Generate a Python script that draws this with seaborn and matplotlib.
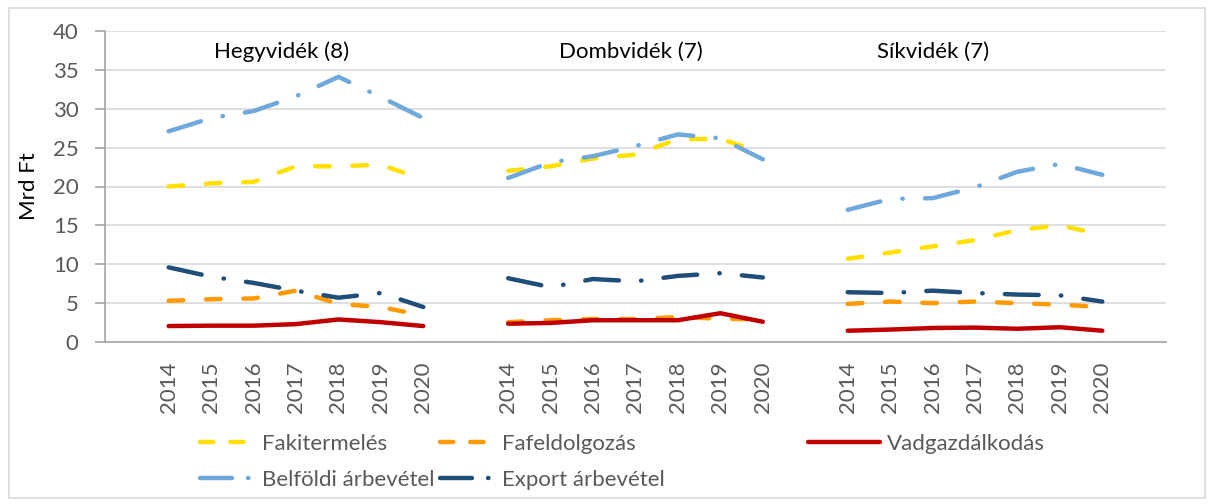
import pandas as pd
import matplotlib.pyplot as plt
import seaborn as sns
from matplotlib.lines import Line2D
from matplotlib.patches import Rectangle

# adatok (Mrd Ft), leolvasva az abrarol
regiok = ["Hegyvidék (8)", "Dombvidék (7)", "Síkvidék (7)"]
evek = [2014, 2015, 2016, 2017, 2018, 2019, 2020]
sorozatok = ["Fakitermelés", "Fafeldolgozás", "Vadgazdálkodás",
             "Belföldi árbevétel", "Export árbevétel"]

fakitermeles = [20.0, 20.4, 20.6, 22.6, 22.6, 22.8, 20.9,
                22.0, 22.6, 23.6, 24.1, 26.1, 26.1, 24.4,
                10.7, 11.5, 12.3, 13.1, 14.4, 15.0, 13.8]
fafeldolgozas = [5.3, 5.5, 5.6, 6.6, 4.9, 4.5, 3.4,
                 2.55, 2.8, 2.95, 2.95, 3.2, 3.0, 2.9,
                 4.9, 5.2, 5.0, 5.2, 5.0, 4.8, 4.5]
vadgazdalkodas = [2.05, 2.1, 2.1, 2.3, 2.9, 2.55, 2.05,
                  2.35, 2.45, 2.8, 2.8, 2.8, 3.7, 2.6,
                  1.45, 1.6, 1.8, 1.85, 1.7, 1.9, 1.45]
belfoldi = [27.1, 28.8, 29.7, 31.6, 34.1, 31.5, 28.8,
            21.1, 23.1, 23.9, 25.2, 26.7, 26.2, 23.5,
            17.0, 18.4, 18.5, 19.9, 21.9, 22.9, 21.5]
export = [9.6, 8.4, 7.6, 6.6, 5.7, 6.3, 4.5,
          8.2, 7.05, 8.1, 7.8, 8.5, 8.85, 8.3,
          6.4, 6.3, 6.6, 6.3, 6.1, 6.0, 5.2]

ertekek = [fakitermeles, fafeldolgozas, vadgazdalkodas, belfoldi, export]

szinek = {"Fakitermelés": "#FFE000", "Fafeldolgozás": "#FF9900",
          "Vadgazdálkodás": "#C00000", "Belföldi árbevétel": "#6FA8DC",
          "Export árbevétel": "#1F4E79"}
vonalak = {"Fakitermelés": (3.3, 5.1), "Fafeldolgozás": (3.3, 5.1),
           "Vadgazdálkodás": "", "Belföldi árbevétel": (7.6, 5.0, 0.1, 5.0),
           "Export árbevétel": (7.6, 5.0, 0.1, 5.0)}
# a jelmagyarazatban rovidebb minta, hogy a pont is latszodjon
jel_vonalak = {"Fakitermelés": (3.0, 3.8), "Fafeldolgozás": (3.0, 3.8),
               "Vadgazdálkodás": "", "Belföldi árbevétel": (7.2, 3.6, 0.1, 3.6),
               "Export árbevétel": (7.2, 3.6, 0.1, 3.6)}

# hosszu tablazat: minden regio 7 ev, koztuk egy ures hely
sorok = []
for s, vals in zip(sorozatok, ertekek):
    for g, reg in enumerate(regiok):
        for i, ev in enumerate(evek):
            sorok.append({"sorozat": s, "regio": reg, "ev": ev,
                          "pos": 1 + g * 8 + i, "ertek": vals[g * 7 + i]})
df = pd.DataFrame(sorok)

sns.set_theme(style="white")
plt.rcParams["font.family"] = ["Lato", "DejaVu Sans"]
FS = 16

fig = plt.figure(figsize=(12.14, 5.04), dpi=100)
ax = fig.add_axes([105 / 1214, 1 - 342 / 504, (1166 - 105) / 1214, (342 - 31) / 504])

ax.yaxis.grid(True, color="#D9D9D9", linewidth=1.2)
ax.set_axisbelow(True)

sns.lineplot(data=df, x="pos", y="ertek", hue="sorozat", style="sorozat",
             units="regio", estimator=None, hue_order=sorozatok,
             style_order=sorozatok, palette=szinek, dashes=vonalak,
             linewidth=3.2, dash_capstyle="round", solid_capstyle="round",
             legend=False, ax=ax)

ax.set_xlim(-0.5, 24.5)
ax.set_ylim(0, 40)
ax.set_yticks(range(0, 41, 5))

poziciok = list(range(25))
cimkek = [""] * 25
for g in range(3):
    for i, ev in enumerate(evek):
        cimkek[1 + g * 8 + i] = str(ev)
ax.set_xticks(poziciok)
ax.set_xticklabels(cimkek, rotation=90)
ax.set_xticks([p - 0.5 for p in range(26)], minor=True)
ax.tick_params(axis="x", which="major", length=0, pad=14, labelsize=FS, labelcolor="#595959")
ax.tick_params(axis="x", which="minor", length=7, width=1.2, color="#A6A6A6", direction="out")
ax.tick_params(axis="y", length=7, width=1.2, color="#A6A6A6", direction="out",
               pad=12, labelsize=FS, labelcolor="#595959", left=True)
ax.set_xlabel("")
ax.set_ylabel("Mrd Ft", fontsize=FS, color="#000000", labelpad=10)

for side in ["top", "right"]:
    ax.spines[side].set_visible(False)
for side in ["left", "bottom"]:
    ax.spines[side].set_color("#A6A6A6")
    ax.spines[side].set_linewidth(1.2)

# regio feliratok
for reg, xp in zip(regiok, [3.67, 11.9, 19.0]):
    ax.text(xp, 37.3, reg, ha="center", va="center", fontsize=FS, color="#000000")


def kezelo(s):
    return Line2D([0], [0], color=szinek[s], linewidth=3.2,
                  linestyle=(0, jel_vonalak[s]) if jel_vonalak[s] else "-",
                  dash_capstyle="round", solid_capstyle="round")


oszlopok = [(["Fakitermelés", "Belföldi árbevétel"], 200, 2.5),
            (["Fafeldolgozás", "Export árbevétel"], 440, 2.5),
            (["Vadgazdálkodás"], 808, 3.25)]
for nevek, xpx, hossz in oszlopok:
    leg = fig.legend([kezelo(n) for n in nevek], nevek, loc="upper left",
                     bbox_to_anchor=(xpx / 1214, 1 - 434 / 504), frameon=False,
                     borderpad=0, borderaxespad=0, handlelength=hossz,
                     handletextpad=0.3, labelspacing=0.7, fontsize=FS)
    for t in leg.get_texts():
        t.set_color("#595959")

fig.patches.append(Rectangle((9 / 1214, 6 / 504), 1196 / 1214, 490 / 504,
                             transform=fig.transFigure, fill=False,
                             edgecolor="#D9D9D9", linewidth=1.2))

fig.savefig("out.png", dpi=100)
